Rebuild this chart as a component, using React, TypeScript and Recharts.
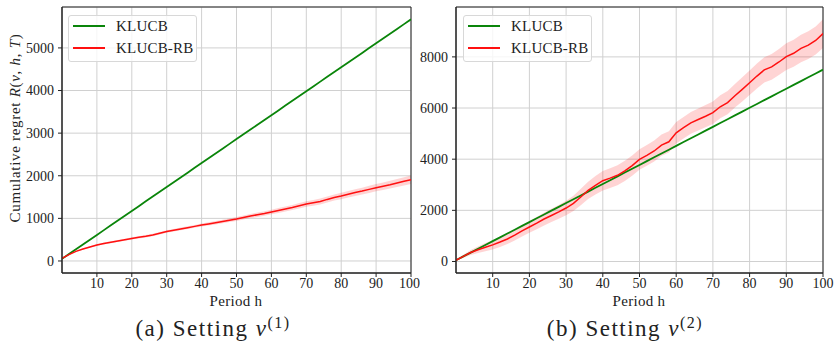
import React from "react";
import {
  ComposedChart,
  Line,
  Area,
  XAxis,
  YAxis,
  CartesianGrid,
  ReferenceArea,
} from "recharts";

const PERIODS = [
  0, 2, 4, 6, 8, 10, 12, 14, 16, 18, 20, 22, 24, 26, 28, 30, 32, 34, 36, 38, 40,
  42, 44, 46, 48, 50, 52, 54, 56, 58, 60, 62, 64, 66, 68, 70, 72, 74, 76, 78, 80,
  82, 84, 86, 88, 90, 92, 94, 96, 98, 100,
];

// setting nu(1)
const KLUCB_1 = [
  50, 162, 275, 387, 500, 612, 724, 837, 949, 1062, 1174, 1286, 1399, 1511, 1624,
  1736, 1848, 1961, 2073, 2186, 2298, 2410, 2523, 2635, 2748, 2860, 2972, 3085,
  3197, 3310, 3422, 3534, 3647, 3759, 3872, 3984, 4096, 4209, 4321, 4434, 4546,
  4658, 4771, 4883, 4996, 5108, 5220, 5333, 5445, 5558, 5670,
];
const KLUCB_RB_1 = [
  60, 150, 225, 280, 330, 375, 410, 440, 470, 500, 530, 555, 580, 610, 650, 690,
  720, 752, 782, 812, 842, 870, 898, 928, 955, 985, 1020, 1055, 1085, 1115, 1150,
  1185, 1220, 1255, 1295, 1335, 1365, 1395, 1445, 1490, 1525, 1565, 1605, 1640,
  1680, 1720, 1755, 1790, 1830, 1870, 1905,
];
const KLUCB_RB_1_SPREAD = [
  5, 8, 11, 14, 17, 20, 21, 22, 23, 24, 25, 26, 27, 28, 29, 30, 31, 32, 33, 34,
  35, 37, 39, 41, 43, 45, 47, 49, 51, 53, 55, 57, 59, 61, 63, 65, 67, 69, 71, 73,
  75, 77, 79, 81, 83, 85, 88, 91, 94, 97, 100,
];

// setting nu(2)
const KLUCB_2 = [
  50, 199, 348, 497, 646, 795, 944, 1093, 1242, 1391, 1540, 1689, 1838, 1987,
  2136, 2285, 2434, 2583, 2732, 2881, 3030, 3179, 3328, 3477, 3626, 3775, 3924,
  4073, 4222, 4371, 4520, 4669, 4818, 4967, 5116, 5265, 5414, 5563, 5712, 5861,
  6010, 6159, 6308, 6457, 6606, 6755, 6904, 7053, 7202, 7351, 7500,
];
const KLUCB_RB_2 = [
  50, 200, 350, 460, 560, 650, 760, 880, 1030, 1200, 1350, 1500, 1660, 1800,
  1940, 2090, 2270, 2520, 2780, 2980, 3160, 3260, 3370, 3540, 3750, 3990, 4150,
  4320, 4550, 4680, 5030, 5230, 5420, 5550, 5680, 5820, 6050, 6210, 6480, 6730,
  6990, 7250, 7490, 7610, 7800, 8010, 8140, 8330, 8460, 8640, 8910,
];
const KLUCB_RB_2_SPREAD = [
  20, 60, 100, 130, 160, 180, 190, 200, 210, 220, 230, 240, 250, 260, 270, 280,
  300, 320, 340, 360, 380, 385, 390, 395, 398, 400, 404, 408, 412, 416, 420, 424,
  428, 432, 436, 440, 448, 456, 464, 472, 480, 488, 496, 504, 512, 520, 528, 536,
  544, 552, 560,
];

const X_TICKS = [10, 20, 30, 40, 50, 60, 70, 80, 90, 100];
const Y_TICKS_1 = [0, 1000, 2000, 3000, 4000, 5000];
const Y_TICKS_2 = [0, 2000, 4000, 6000, 8000];

const FONT = "Liberation Serif, DejaVu Serif, serif";
const GREEN = "#0a850a";
const RED = "#ff1010";

function buildRows(green: number[], red: number[], spread: number[]) {
  return PERIODS.map((h, i) => ({
    h,
    klucb: green[i],
    klucbRb: red[i],
    band: [red[i] - spread[i], red[i] + spread[i]],
  }));
}

const tickStyle = { fill: "#222", fontSize: 14, fontFamily: FONT };

function Panel({
  rows,
  yDomain,
  yTicks,
  width,
  yAxisWidth,
  margin,
}: {
  rows: any[];
  yDomain: [number, number];
  yTicks: number[];
  width: number;
  yAxisWidth: number;
  margin: { top: number; right: number; bottom: number; left: number };
}) {
  return (
    <ComposedChart
      width={width}
      height={345}
      data={rows}
      margin={margin}
      style={{ fontFamily: FONT }}
    >
      <CartesianGrid stroke="#d0d0d0" strokeWidth={1} />
      <XAxis
        dataKey="h"
        type="number"
        domain={[0, 100]}
        ticks={X_TICKS}
        allowDataOverflow
        height={30}
        tickSize={4}
        tickMargin={1}
        stroke="#222"
        tick={tickStyle}
      />
      <YAxis
        type="number"
        domain={yDomain}
        ticks={yTicks}
        allowDataOverflow
        width={yAxisWidth}
        tickSize={4}
        tickMargin={4}
        stroke="#222"
        tick={tickStyle}
      />
      <Area
        dataKey="band"
        stroke="none"
        fill="#ff0000"
        fillOpacity={0.17}
        legendType="none"
        isAnimationActive={false}
      />
      <Line
        dataKey="klucb"
        stroke={GREEN}
        strokeWidth={1.8}
        dot={false}
        isAnimationActive={false}
      />
      <Line
        dataKey="klucbRb"
        stroke={RED}
        strokeWidth={1.5}
        dot={false}
        isAnimationActive={false}
      />
      <ReferenceArea
        x1={0}
        x2={100}
        y1={yDomain[0]}
        y2={yDomain[1]}
        fill="none"
        stroke="#222"
        strokeWidth={1}
      />
    </ComposedChart>
  );
}

function LegendBox({ left }: { left: number }) {
  const entries = [
    { name: "KLUCB", color: GREEN },
    { name: "KLUCB-RB", color: RED },
  ];
  return (
    <div
      style={{
        position: "absolute",
        left,
        top: 15,
        width: 129,
        height: 47,
        border: "1px solid #d8d8d8",
        borderRadius: 3,
        background: "rgba(255,255,255,0.8)",
        boxSizing: "border-box",
        fontFamily: FONT,
        fontSize: 15,
        color: "#222",
        whiteSpace: "nowrap",
      }}
    >
      {entries.map((e, i) => (
        <React.Fragment key={e.name}>
          <div
            style={{
              position: "absolute",
              left: 4,
              top: 9 + i * 22,
              width: 32,
              height: 2,
              background: e.color,
            }}
          />
          <div
            style={{
              position: "absolute",
              left: 47,
              top: 1 + i * 22,
              lineHeight: "18px",
              letterSpacing: 0.2,
            }}
          >
            {e.name}
          </div>
        </React.Fragment>
      ))}
    </div>
  );
}

export default function App() {
  const rows1 = buildRows(KLUCB_1, KLUCB_RB_1, KLUCB_RB_1_SPREAD);
  const rows2 = buildRows(KLUCB_2, KLUCB_RB_2, KLUCB_RB_2_SPREAD);

  const text = {
    position: "absolute" as const,
    fontFamily: FONT,
    color: "#222",
    whiteSpace: "nowrap" as const,
  };

  return (
    <div
      style={{
        position: "fixed",
        left: 0,
        top: 0,
        width: 834,
        height: 345,
        background: "#fff",
        overflow: "hidden",
        fontFamily: FONT,
      }}
    >
      <div style={{ position: "absolute", left: 0, top: 0 }}>
        <Panel
          rows={rows1}
          yDomain={[-282, 5960]}
          yTicks={Y_TICKS_1}
          width={420}
          yAxisWidth={52}
          margin={{ top: 7, right: 9, bottom: 42, left: 10 }}
        />
      </div>
      <div style={{ position: "absolute", left: 415, top: 0 }}>
        <Panel
          rows={rows2}
          yDomain={[-450, 9950]}
          yTicks={Y_TICKS_2}
          width={419}
          yAxisWidth={41}
          margin={{ top: 7, right: 11, bottom: 42, left: 0 }}
        />
      </div>

      <LegendBox left={68} />
      <LegendBox left={463} />

      <div
        style={{
          ...text,
          left: 15,
          top: 128,
          fontSize: 15,
          letterSpacing: 0.7,
          transform: "translate(-50%, -50%) rotate(-90deg)",
        }}
      >
        Cumulative regret <i>R</i>(<i>ν</i>, <i>h</i>, <i>T</i>)
      </div>

      <div
        style={{
          ...text,
          left: 236,
          top: 301,
          fontSize: 15,
          letterSpacing: 0.3,
          transform: "translate(-50%, -50%)",
        }}
      >
        Period h
      </div>
      <div
        style={{
          ...text,
          left: 639,
          top: 301,
          fontSize: 15,
          letterSpacing: 0.3,
          transform: "translate(-50%, -50%)",
        }}
      >
        Period h
      </div>

      <div
        style={{
          ...text,
          left: 213,
          top: 328,
          fontSize: 23,
          letterSpacing: 1.5,
          transform: "translate(-50%, -50%)",
        }}
      >
        (a) Setting <i>ν</i>
        <sup style={{ fontSize: 16 }}>(1)</sup>
      </div>
      <div
        style={{
          ...text,
          left: 625,
          top: 328,
          fontSize: 23,
          letterSpacing: 1.5,
          transform: "translate(-50%, -50%)",
        }}
      >
        (b) Setting <i>ν</i>
        <sup style={{ fontSize: 16 }}>(2)</sup>
      </div>
    </div>
  );
}
